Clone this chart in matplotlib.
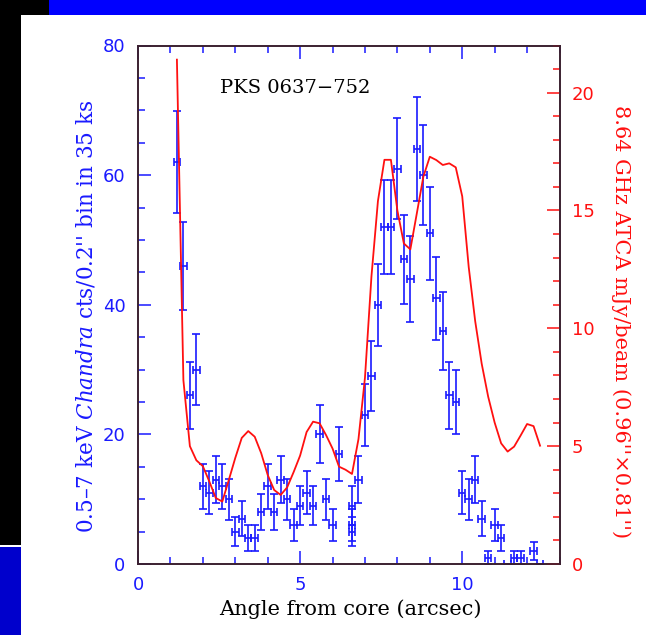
import numpy as np
import matplotlib
matplotlib.use("Agg")
import matplotlib.pyplot as plt
from matplotlib.patches import Rectangle
from matplotlib.ticker import MultipleLocator

plt.rcParams['mathtext.fontset'] = 'dejavuserif'

# Chandra counts per 0.2'' bin
x_cnt = [1.2, 1.4, 1.6, 1.8, 2.0, 2.2, 2.4, 2.6, 2.8, 3.0, 3.2, 3.4, 3.6, 3.8,
         4.0, 4.2, 4.4, 4.6, 4.8, 5.0, 5.2, 5.4, 5.6, 5.8, 6.0, 6.2, 6.6, 6.6,
         6.6, 6.8, 7.0, 7.2, 7.4, 7.6, 7.8, 8.0, 8.2, 8.4, 8.6, 8.8, 9.0, 9.2,
         9.4, 9.6, 9.8, 10.0, 10.2, 10.4, 10.6, 10.8, 11.0, 11.2, 11.4, 11.6,
         11.8, 12.2, 12.4]
counts = [62, 46, 26, 30, 12, 11, 13, 12, 10, 5, 7, 4, 4, 8,
          12, 8, 13, 10, 6, 9, 11, 9, 20, 10, 6, 17, 9, 6,
          5, 13, 23, 29, 40, 52, 52, 61, 47, 44, 64, 60, 51, 41,
          36, 26, 25, 11, 10, 13, 7, 1, 6, 4, 0, 1,
          1, 2, 0]

# ATCA 8.64 GHz profile (mJy/beam)
x_radio = [1.2, 1.4, 1.6, 1.8, 2.0, 2.2, 2.4, 2.6, 2.8, 3.0, 3.2, 3.4, 3.6, 3.8,
           4.0, 4.2, 4.4, 4.6, 4.8, 5.0, 5.2, 5.4, 5.6, 5.8, 6.0, 6.2, 6.4, 6.6,
           6.8, 7.0, 7.2, 7.4, 7.6, 7.8, 8.0, 8.2, 8.4, 8.6, 8.8, 9.0, 9.2, 9.4,
           9.6, 9.8, 10.0, 10.2, 10.4, 10.6, 10.8, 11.0, 11.2, 11.4, 11.6, 11.8,
           12.0, 12.2, 12.4]
radio = [21.4, 7.8, 5.0, 4.4, 4.15, 3.5, 2.8, 2.65, 3.56, 4.5, 5.35, 5.64, 5.4, 4.7,
         3.78, 3.14, 2.93, 3.25, 3.9, 4.6, 5.6, 6.04, 5.97, 5.47, 4.9, 4.13, 4.0, 3.82,
         5.3, 7.9, 12.2, 15.4, 17.15, 17.15, 15.0, 13.6, 13.35, 14.88, 16.43, 17.28, 17.14, 16.93,
         17.0, 16.83, 15.6, 12.6, 10.3, 8.5, 7.1, 6.0, 5.12, 4.77, 4.98, 5.45,
         5.94, 5.85, 5.02]

W, H = 646, 635
fig = plt.figure(figsize=(W / 100, H / 100), dpi=100)


def px_rect(x0, y0, x1, y1, color):
    fig.add_artist(Rectangle((x0 / W, 1 - y1 / H), (x1 - x0) / W, (y1 - y0) / H,
                             transform=fig.transFigure, color=color, zorder=0, lw=0))


# slide decorations
px_rect(48.6, 0, W, 14.8, '#0000ff')
px_rect(0, 0, 48.6, 14.8, 'black')
px_rect(0, 14.8, 20.6, 545, 'black')
px_rect(0, 547, 20.6, H, '#0000cc')

ax = fig.add_axes([138 / W, 1 - 564 / H, (559.5 - 138) / W, (564 - 45.5) / H])
ax2 = ax.twinx()

blue = '#1a1aff'
red = '#ff1010'

ax.errorbar(x_cnt, counts, xerr=0.1, yerr=np.sqrt(counts), fmt='none',
            ecolor=blue, elinewidth=1.2, capsize=2.6, capthick=1.2)
ax2.plot(x_radio, radio, color=red, lw=1.3)

ax.set_xlim(0, 13)
ax.set_ylim(0, 80)
ax2.set_ylim(0, 22)

ax.xaxis.set_major_locator(MultipleLocator(5))
ax.xaxis.set_minor_locator(MultipleLocator(1))
ax.yaxis.set_major_locator(MultipleLocator(20))
ax.yaxis.set_minor_locator(MultipleLocator(5))
ax2.yaxis.set_major_locator(MultipleLocator(5))
ax2.yaxis.set_minor_locator(MultipleLocator(1))

ax.tick_params(which='both', direction='in', top=True, right=False,
               color=blue, labelcolor=blue, width=1.1, labelsize=13)
ax.tick_params(which='major', length=9.5, pad=9)
ax.tick_params(which='minor', length=5)
ax2.tick_params(which='both', direction='in', right=True, left=False,
                color=red, labelcolor=red, width=1.1, labelsize=13)
ax2.tick_params(which='major', length=9.5, pad=9)
ax2.tick_params(which='minor', length=5)

for a in (ax, ax2):
    for s in a.spines.values():
        s.set_color('#3b2030')
        s.set_linewidth(1.2)

serif = 'DejaVu Serif'
ax.set_ylabel(r"0.5–7 keV $\mathit{Chandra}$ cts/0.2'' bin in 35 ks",
              color=blue, family=serif, fontsize=15.5)
ax.yaxis.set_label_coords(-0.097, 0.478)
ax2.set_ylabel("8.64 GHz ATCA mJy/beam (0.96''×0.81'')", color=red,
               family=serif, fontsize=15, rotation=270, va='center')
ax2.yaxis.set_label_coords(1.145, 0.467)
ax.set_xlabel("Angle from core (arcsec)", color='black', family=serif, fontsize=15)
ax.xaxis.set_label_coords(0.503, -0.069)

ax.text(0.195, 0.918, "PKS 0637−752", transform=ax.transAxes, family=serif,
        fontsize=14, color='black', ha='left', va='center')

fig.savefig('out.png', dpi=100)
